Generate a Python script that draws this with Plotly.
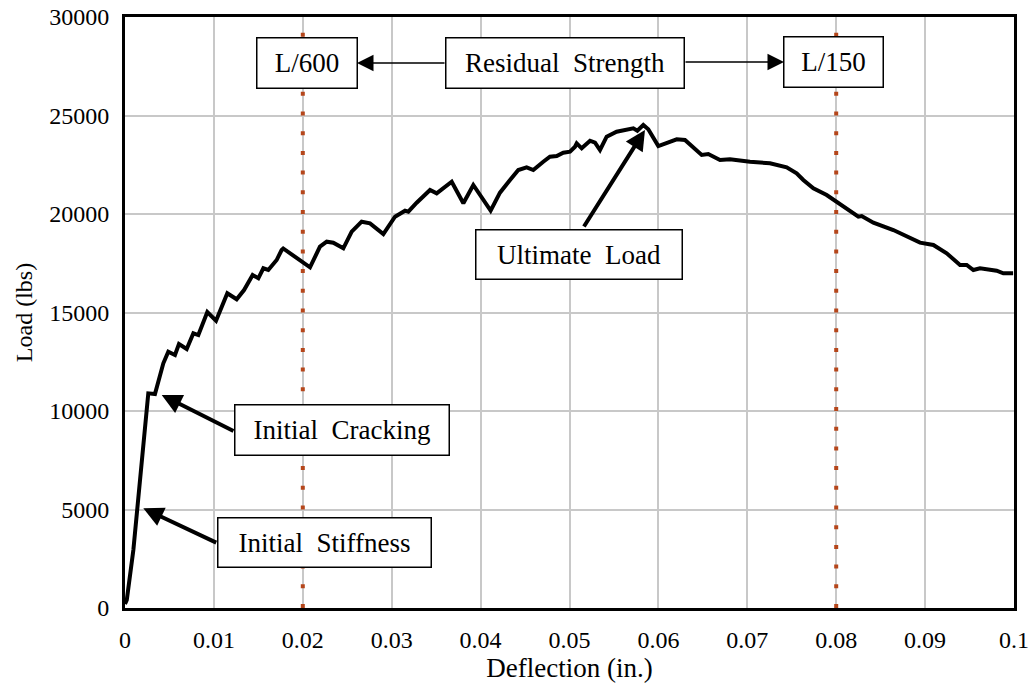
import plotly.graph_objects as go

# load-deflection record
deflection = [0.0, 0.0002, 0.00094, 0.00169, 0.00262, 0.00337, 0.00431, 0.00487, 0.00562, 0.00607,
              0.00694, 0.00769, 0.00825, 0.00926, 0.01024, 0.01151, 0.01256, 0.01339, 0.01436, 0.015,
              0.01556, 0.01612, 0.01706, 0.01762, 0.0178, 0.02081, 0.02193, 0.02269, 0.02343, 0.02456,
              0.0255, 0.02662, 0.02756, 0.02906, 0.03037, 0.0315, 0.03187, 0.03281, 0.03431, 0.03506,
              0.03675, 0.03806, 0.03918, 0.04113, 0.04218, 0.04331, 0.04424, 0.04518, 0.04593, 0.04705,
              0.0478, 0.04856, 0.0493, 0.05006, 0.05062, 0.05081, 0.05137, 0.05231, 0.05287, 0.05343,
              0.05418, 0.0553, 0.05643, 0.05718, 0.05763, 0.0583, 0.05886, 0.05999, 0.06206, 0.06299,
              0.06487, 0.06561, 0.06693, 0.06805, 0.0703, 0.07255, 0.07443, 0.07555, 0.0763, 0.07743,
              0.07893, 0.08043, 0.08249, 0.08287, 0.08418, 0.08643, 0.0883, 0.08943, 0.09093, 0.09243,
              0.09393, 0.09468, 0.09543, 0.09618, 0.09805, 0.0988, 0.0999]
load = [200, 406, 2944, 6666, 10897, 10863, 12421, 13010, 12843, 13400,
        13147, 13944, 13857, 15025, 14585, 15974, 15670, 16142, 16903, 16735,
        17243, 17157, 17664, 18172, 18250, 17293, 18341, 18595, 18544, 18259,
        19101, 19609, 19525, 18984, 19862, 20167, 20116, 20573, 21218, 21049,
        21640, 20543, 21472, 20167, 21083, 21725, 22233, 22368, 22233, 22655,
        22909, 22944, 23112, 23164, 23416, 23586, 23334, 23721, 23620, 23248,
        23924, 24178, 24264, 24349, 24228, 24518, 24298, 23451, 23790, 23756,
        22995, 23046, 22741, 22774, 22655, 22571, 22368, 22064, 21725, 21302,
        20964, 20500, 19862, 19897, 19559, 19188, 18766, 18544, 18426, 18003,
        17410, 17410, 17157, 17243, 17122, 16988, 16988]

# span/600 and span/150 deflection limits
limit_x = [0.02, 0.08]

x_ticks = [0, 0.01, 0.02, 0.03, 0.04, 0.05, 0.06, 0.07, 0.08, 0.09, 0.1]
x_tick_labels = ['0', '0.01', '0.02', '0.03', '0.04', '0.05', '0.06', '0.07', '0.08', '0.09', '0.1']
y_ticks = [0, 5000, 10000, 15000, 20000, 25000, 30000]
y_tick_labels = ['0', '5000', '10000', '15000', '20000', '25000', '30000']

# labelled boxes: text, x, y, width, height
box_text = ['L/600', 'Residual  Strength', 'L/150', 'Ultimate  Load', 'Initial  Cracking', 'Initial  Stiffness']
box_x = [0.02047, 0.0495, 0.07973, 0.05107, 0.02441, 0.02242]
box_y = [27665, 27665, 27716, 17969, 9020, 3340]
box_w = [99, 237, 98, 205, 213, 212]
box_h = [49, 49, 49, 48, 49, 48]

# pointer arrows: tail x, tail y, tip x, tip y, width
arrow_tail_x = [0.03611, 0.06288, 0.05152, 0.01237, 0.01043]
arrow_tail_y = [27665, 27716, 19289, 8950, 3284]
arrow_tip_x = [0.02610, 0.07413, 0.05849, 0.00413, 0.00206]
arrow_tip_y = [27665, 27716, 24263, 10812, 5061]
arrow_width = [1.5, 1.5, 4, 4, 4]
arrow_size = [2.2, 2.2, 1, 1, 1]

FONT = 'Liberation Serif'

fig = go.Figure()

for lx in limit_x:
    fig.add_trace(go.Scatter(x=[lx, lx], y=[0, 30000], mode='lines', hoverinfo='skip',
                             line=dict(color='#B5461B', width=4, dash='4px,15.7px')))

fig.add_trace(go.Scatter(x=deflection, y=load, mode='lines',
                         line=dict(color='black', width=4)))

for t, bx, by, w, h in zip(box_text, box_x, box_y, box_w, box_h):
    fig.add_annotation(x=bx, y=by, xref='x', yref='y', text=t.replace('  ', '\u00a0 '), showarrow=False,
                       width=w, height=h, bgcolor='white', bordercolor='black', borderwidth=1.5,
                       borderpad=0, font=dict(family=FONT, size=27, color='black'))

for tx, ty, hx, hy, aw, asz in zip(arrow_tail_x, arrow_tail_y, arrow_tip_x, arrow_tip_y, arrow_width, arrow_size):
    fig.add_annotation(x=hx, y=hy, ax=tx, ay=ty, xref='x', yref='y', axref='x', ayref='y',
                       text='', showarrow=True, arrowhead=2, arrowsize=asz, arrowwidth=aw,
                       arrowcolor='black', standoff=0)

fig.update_layout(width=1031, height=685, showlegend=False,
                  plot_bgcolor='white', paper_bgcolor='white',
                  margin=dict(l=125, r=17, t=17, b=77),
                  font=dict(family=FONT, color='black'))
fig.update_xaxes(range=[0, 0.1], tickvals=x_ticks, ticktext=x_tick_labels, automargin=False,
                 tickfont=dict(size=24), ticks='', ticklabelstandoff=8, ticklabeloverflow='allow',
                 showgrid=True, gridcolor='#C8C8C8', gridwidth=2, zeroline=False,
                 showline=True, linecolor='black', linewidth=3, mirror=True,
                 title=dict(text='Deflection (in.)', font=dict(size=27), standoff=2))
fig.update_yaxes(range=[0, 30000], tickvals=y_ticks, ticktext=y_tick_labels, automargin=False,
                 tickfont=dict(size=24), ticks='', ticklabelstandoff=8, ticklabeloverflow='allow',
                 showgrid=True, gridcolor='#C8C8C8', gridwidth=2, zeroline=False,
                 showline=True, linecolor='black', linewidth=3, mirror=True,
                 title=dict(text='Load (lbs)', font=dict(size=24), standoff=10))

# drop the page's default body margin so the figure sits at the window origin
fig.write_html("out.html", config={'displayModeBar': False},
               post_script="document.body.style.margin = '0';")
